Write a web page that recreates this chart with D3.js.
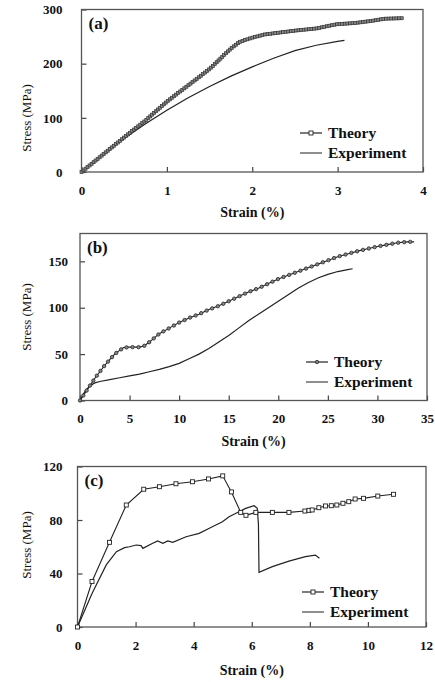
<!DOCTYPE html>
<html>
<head>
<meta charset="utf-8">
<script src="https://cdn.jsdelivr.net/npm/d3@7"></script>
<style>
  body { margin: 0; background: #fff; }
  svg { display: block; }
  text { font-family: "Liberation Serif", "Times New Roman", serif; fill: #111; }
</style>
</head>
<body>
<svg id="fig" width="435" height="682"></svg>
<script>
// panel (a)
var strainA_th = [0, 0.25, 0.5, 0.75, 1, 1.25, 1.5, 1.75, 1.85, 2.0, 2.15, 2.3, 2.5, 2.75, 2.9, 3.0, 3.2, 3.4, 3.55, 3.77];
var stressA_th = [0, 32, 64, 95, 130, 160, 190, 228, 240, 248, 254, 257, 261, 265, 270, 273, 275, 279, 283, 284];
var strainA_ex = [0, 0.25, 0.5, 0.75, 1, 1.25, 1.5, 1.75, 2, 2.25, 2.5, 2.75, 3, 3.08];
var stressA_ex = [0, 32, 62, 89, 114, 137, 158, 177, 194, 210, 224, 234, 241, 243];
var xTicksA = [0, 1, 2, 3, 4];
var yTicksA = [0, 100, 200, 300];

// panel (b)
var strainB_th = [0, 0.5, 1, 1.5, 2, 2.5, 3, 3.5, 4, 4.4, 5, 6, 6.5, 7, 8, 9, 10, 11, 12, 13, 14, 15, 16, 17, 18, 19, 20, 21, 22, 23, 24, 25, 26, 27, 28, 29, 30, 31, 32, 33, 33.7];
var stressB_th = [0, 8, 16, 24, 31, 38, 44, 50, 54, 57, 57.5, 57.5, 59, 63, 72, 78, 84, 89, 93, 98, 102, 107, 112, 117, 121, 126, 131, 135, 139, 143, 147, 151, 155, 158, 161, 163.5, 166, 168, 170, 171, 171];
var strainB_ex = [0, 0.5, 1, 1.5, 2, 3, 4, 5, 6, 7, 8, 9, 10, 11, 12, 13, 14, 15, 16, 17, 18, 19, 20, 21, 22, 23, 24, 25, 26, 27, 27.5];
var stressB_ex = [0, 10, 16, 19, 20.5, 22.5, 24.5, 26.5, 28.5, 31, 33.5, 36.5, 40, 45, 50, 56, 63, 70, 78, 86, 93, 100, 107, 114, 121, 127, 132, 136, 139, 141, 142];
var xTicksB = [0, 5, 10, 15, 20, 25, 30, 35];
var yTicksB = [0, 50, 100, 150];

// panel (c)
var strainC_th = [0, 0.5, 1.1, 1.68, 2.28, 2.82, 3.39, 3.96, 4.51, 5.0, 5.3, 5.62, 5.8, 6.14, 6.71, 7.28, 7.83, 7.97, 8.08, 8.31, 8.54, 8.74, 8.93, 9.14, 9.34, 9.56, 9.85, 10.34, 10.88];
var stressC_th = [0, 34, 63.3, 91.2, 103, 104.9, 107.1, 108.6, 110.7, 113, 101, 85.7, 83.5, 85.7, 85.7, 85.7, 86.7, 87.2, 87.5, 89.2, 90.5, 90.7, 91.2, 92.5, 93.7, 95.7, 96.2, 97.9, 99.2];
var strainC_ex = [0, 0.5, 0.99, 1.34, 1.62, 1.79, 2.02, 2.19, 2.25, 2.59, 2.76, 2.94, 3.11, 3.28, 3.74, 4.19, 4.54, 4.99, 5.22, 5.56, 5.79, 6.08, 6.19, 6.23, 6.25, 6.71, 7.28, 7.85, 8.19, 8.33];
var stressC_ex = [0, 25, 46.4, 56.3, 59.3, 60, 61.3, 60.8, 58.8, 62.6, 64.3, 62.6, 64.3, 63.3, 67.5, 70, 73.8, 78.7, 82.5, 86.2, 88.7, 90.7, 88.7, 77, 40.9, 45.1, 49.3, 52.6, 53.8, 51.4];
var xTicksC = [0, 2, 4, 6, 8, 10, 12];
var yTicksC = [0, 40, 80, 120];

var fig = d3.select("#fig");

function zip(xs, ys) {
    return xs.map(function (x, i) { return [x, ys[i]]; });
}

function drawMarker(g, kind, x, y) {
    if (kind === "dense") {
        g.append("rect").attr("x", x - 1.5).attr("y", y - 1.5).attr("width", 3).attr("height", 3)
            .attr("fill", "#888").attr("stroke", "#333").attr("stroke-width", 0.7);
    } else if (kind === "dot") {
        g.append("circle").attr("cx", x).attr("cy", y).attr("r", 1.7)
            .attr("fill", "#888").attr("stroke", "#222").attr("stroke-width", 0.8);
    } else {
        g.append("rect").attr("x", x - 2).attr("y", y - 2).attr("width", 4).attr("height", 4)
            .attr("fill", "#fff").attr("stroke", "#222").attr("stroke-width", 0.9);
    }
}

function drawPanel(p) {
    var x = d3.scaleLinear().domain(p.xDomain).range([p.left, p.right]);
    var y = d3.scaleLinear().domain(p.yDomain).range([p.bottom, p.top]);
    var g = fig.append("g");

    // axes, ticks pointing inward
    var ax = g.append("g").attr("transform", "translate(0," + p.bottom + ")")
        .call(d3.axisBottom(x).tickValues(p.xTicks).tickFormat(d3.format("d"))
            .tickSizeInner(-5).tickSizeOuter(0).tickPadding(p.xPad));
    var ay = g.append("g").attr("transform", "translate(" + p.left + ",0)")
        .call(d3.axisLeft(y).tickValues(p.yTicks).tickFormat(d3.format("d"))
            .tickSizeInner(-5).tickSizeOuter(0).tickPadding(p.yPad));
    [ax, ay].forEach(function (a) {
        a.select(".domain").remove();
        a.selectAll(".tick line").attr("stroke", "#444").attr("stroke-width", 1.2);
        a.selectAll(".tick text").attr("font-family", "Liberation Serif").attr("font-size", 13)
            .attr("font-weight", "bold").attr("fill", "#111");
    });

    g.append("rect").attr("x", p.left).attr("y", p.top)
        .attr("width", p.right - p.left).attr("height", p.bottom - p.top)
        .attr("fill", "none").attr("stroke", "#555").attr("stroke-width", 1.3);

    var line = d3.line().x(function (d) { return x(d[0]); }).y(function (d) { return y(d[1]); });

    g.append("path").datum(p.ex).attr("d", line)
        .attr("fill", "none").attr("stroke", "#222").attr("stroke-width", 1.2);

    var th = g.append("path").datum(p.th).attr("d", line)
        .attr("fill", "none").attr("stroke", "#222").attr("stroke-width", 1.1);

    var mg = g.append("g");
    if (p.marker === "square") {
        p.th.forEach(function (d) { drawMarker(mg, "square", x(d[0]), y(d[1])); });
    } else {
        // markers spaced evenly along the drawn curve
        var node = th.node(), L = node.getTotalLength();
        for (var l = 0; l <= L; l += p.step) {
            var pt = node.getPointAtLength(l);
            drawMarker(mg, p.marker, pt.x, pt.y);
        }
    }

    // legend
    var lg = g.append("g");
    lg.append("line").attr("x1", p.legX).attr("x2", p.legX + p.legW)
        .attr("y1", p.legY).attr("y2", p.legY).attr("stroke", "#222").attr("stroke-width", 1.2);
    drawMarker(lg, p.marker === "dense" ? "square" : p.marker, p.legX + p.legW / 2, p.legY);
    lg.append("line").attr("x1", p.legX).attr("x2", p.legX + p.legW)
        .attr("y1", p.legY + 20).attr("y2", p.legY + 20).attr("stroke", "#444").attr("stroke-width", 1.2);
    lg.append("text").attr("x", p.legX + p.legW + 6).attr("y", p.legY).attr("dy", "0.33em")
        .attr("font-size", 15.5).attr("font-weight", "bold").text("Theory");
    lg.append("text").attr("x", p.legX + p.legW + 6).attr("y", p.legY + 20).attr("dy", "0.33em")
        .attr("font-size", 15.5).attr("font-weight", "bold").text("Experiment");

    // titles
    g.append("text").attr("x", p.left + 7).attr("y", p.top + 14).attr("dy", "0.33em")
        .attr("font-size", 17).attr("font-weight", "bold").text(p.tag);
    g.append("text").attr("x", (p.left + p.right) / 2).attr("y", p.xTitleY).attr("dy", "0.33em")
        .attr("text-anchor", "middle").attr("font-size", 14).attr("font-weight", "bold").text("Strain (%)");
    g.append("text").attr("transform", "translate(27," + p.yTitleY + ") rotate(-90)").attr("dy", "0.33em")
        .attr("text-anchor", "middle").attr("font-size", 13).text("Stress (MPa)");
}

drawPanel({
    tag: "(a)", th: zip(strainA_th, stressA_th), ex: zip(strainA_ex, stressA_ex),
    xDomain: [0, 4], yDomain: [0, 300], xTicks: xTicksA, yTicks: yTicksA,
    left: 81.5, right: 423, top: 9.5, bottom: 172, xPad: 14, yPad: 19,
    marker: "dense", step: 2.6,
    legX: 300, legW: 22, legY: 133, xTitleY: 212, yTitleY: 118
});

drawPanel({
    tag: "(b)", th: zip(strainB_th, stressB_th), ex: zip(strainB_ex, stressB_ex),
    xDomain: [0, 35], yDomain: [0, 180], xTicks: xTicksB, yTicks: yTicksB,
    left: 80, right: 427, top: 233.5, bottom: 400.5, xPad: 13, yPad: 12,
    marker: "dot", step: 6,
    legX: 306, legW: 22, legY: 362, xTitleY: 441, yTitleY: 317
});

drawPanel({
    tag: "(c)", th: zip(strainC_th, stressC_th), ex: zip(strainC_ex, stressC_ex),
    xDomain: [0, 12], yDomain: [0, 120], xTicks: xTicksC, yTicks: yTicksC,
    left: 77.5, right: 426, top: 466.5, bottom: 627, xPad: 14, yPad: 15,
    marker: "square",
    legX: 302, legW: 22, legY: 592, xTitleY: 670, yTitleY: 545
});
</script>
</body>
</html>
